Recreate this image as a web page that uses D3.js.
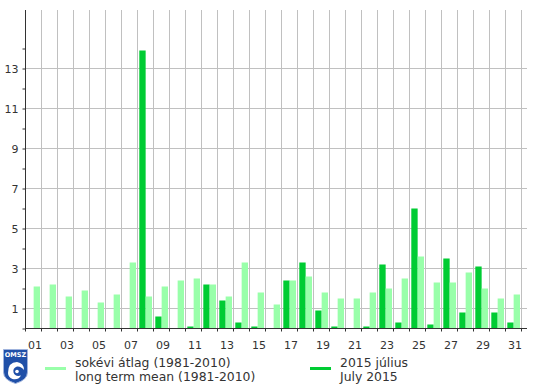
<!DOCTYPE html>
<html>
<head>
<meta charset="utf-8">
<script src="https://cdn.jsdelivr.net/npm/d3@7"></script>
<style>
  body { margin: 0; background: #fff; }
  text { font-family: 'DejaVu Sans', Verdana, sans-serif; fill: #333; }
</style>
</head>
<body>
<svg id="chart" width="536" height="388"></svg>
<script>
// daily precipitation, July 2015 vs long term mean (mm)
const days = d3.range(1, 32);
const july2015 = [0, 0, 0, 0, 0, 0, 0, 13.9, 0.6, 0, 0.1, 2.2, 1.4, 0.3, 0.1, 0,
  2.4, 3.3, 0.9, 0.1, 0, 0.1, 3.2, 0.3, 6.0, 0.2, 3.5, 0.8, 3.1, 0.8, 0.3];
const longTermMean = [2.1, 2.2, 1.6, 1.9, 1.3, 1.7, 3.3, 1.6, 2.1, 2.4, 2.5, 2.2, 1.6, 3.3, 1.8, 1.2,
  2.4, 2.6, 1.8, 1.5, 1.5, 1.8, 2.0, 2.5, 3.6, 2.3, 2.3, 2.8, 2.0, 1.5, 1.7];
const yTickLabels = [1, 3, 5, 7, 9, 11, 13];
const xTickLabels = days.filter(d => d % 2 === 1);

const colorJuly = '#00cc33';
const colorMean = '#99ffaa';
const gridColor = '#c0c0c0';
const axisColor = '#333';

const svg = d3.select('#chart');

const plotLeft = 25, plotRight = 521, axisEnd = 527;
const plotTop = 10.5, plotBottom = 328.5;

const x = d3.scaleBand()
  .domain(days)
  .range([plotLeft, plotRight]);

const xInner = d3.scaleBand()
  .domain(['july', 'mean'])
  .range([2.3, 15]);

const y = d3.scaleLinear()
  .domain([0, 15.9])
  .range([plotBottom, plotTop]);

// grid
svg.append('g')
  .selectAll('line')
  .data(yTickLabels)
  .enter()
  .append('line')
  .attr('x1', plotLeft)
  .attr('x2', axisEnd)
  .attr('y1', d => y(d))
  .attr('y2', d => y(d))
  .attr('stroke', gridColor);

svg.append('g')
  .selectAll('line')
  .data(days)
  .enter()
  .append('line')
  .attr('x1', d => x(d) + x.bandwidth() + 0.5)
  .attr('x2', d => x(d) + x.bandwidth() + 0.5)
  .attr('y1', plotTop - 0.5)
  .attr('y2', plotBottom)
  .attr('stroke', gridColor);

// bars
const bars = svg.append('g');

bars.selectAll('.july')
  .data(days)
  .enter()
  .append('rect')
  .classed('july', true)
  .attr('x', d => x(d) + xInner('july'))
  .attr('width', xInner.bandwidth())
  .attr('y', (d, i) => y(july2015[i]))
  .attr('height', (d, i) => y(0) - y(july2015[i]))
  .attr('fill', colorJuly);

bars.selectAll('.mean')
  .data(days)
  .enter()
  .append('rect')
  .classed('mean', true)
  .attr('x', d => x(d) + xInner('mean'))
  .attr('width', xInner.bandwidth())
  .attr('y', (d, i) => y(longTermMean[i]))
  .attr('height', (d, i) => y(0) - y(longTermMean[i]))
  .attr('fill', colorMean);

// y axis
const yAxis = d3.axisLeft(y)
  .tickValues(d3.range(0, 15))
  .tickSize(3)
  .tickPadding(4)
  .tickFormat(d => yTickLabels.includes(d) ? d : '');

const gY = svg.append('g')
  .attr('transform', 'translate(' + (plotLeft + 0.5) + ',0)')
  .call(yAxis);

gY.select('.domain').remove();
gY.append('line')
  .attr('x1', 0).attr('x2', 0)
  .attr('y1', plotTop - 0.5).attr('y2', plotBottom + 3)
  .attr('stroke', axisColor);
gY.selectAll('.tick line').attr('stroke', axisColor);
gY.selectAll('.tick text')
  .style('font-size', '11px')
  .style('font-family', "'DejaVu Sans', Verdana, sans-serif")
  .attr('fill', axisColor);

// x axis
const gX = svg.append('g');

gX.append('line')
  .attr('x1', plotLeft)
  .attr('x2', axisEnd)
  .attr('y1', plotBottom)
  .attr('y2', plotBottom)
  .attr('stroke', axisColor);

gX.selectAll('.xtick')
  .data(days)
  .enter()
  .append('line')
  .classed('xtick', true)
  .attr('x1', d => x(d) + x.bandwidth() + 0.5)
  .attr('x2', d => x(d) + x.bandwidth() + 0.5)
  .attr('y1', plotBottom)
  .attr('y2', plotBottom + 3)
  .attr('stroke', axisColor);

gX.selectAll('.xlabel')
  .data(xTickLabels)
  .enter()
  .append('text')
  .classed('xlabel', true)
  .attr('x', d => x(d) + x.bandwidth() / 2 + 2)
  .attr('y', plotBottom + 20)
  .attr('text-anchor', 'middle')
  .style('font-size', '11px')
  .text(d => d3.format('02d')(d));

// logo
const logo = svg.append('g');
logo.append('path')
  .attr('d', 'M3.5,349.5 H27.5 V372 Q27.5,380 15.5,383.5 Q3.5,380 3.5,372 Z')
  .attr('fill', '#2050a8')
  .attr('stroke', '#9fb3dd');
logo.append('text')
  .attr('x', 15.5)
  .attr('y', 357)
  .attr('text-anchor', 'middle')
  .style('font-size', '6.5px')
  .style('font-weight', 'bold')
  .style('fill', '#fff')
  .text('OMSZ');
logo.append('path')
  .attr('d', 'M8,373 Q8,362 17,362 Q24,363 24,370 Q21,366 17,366.5 Q12.5,368 13.5,372.5 Q15,377 21,375.5 Q18,380.5 12.5,379 Q8,377 8,373 Z')
  .attr('fill', '#fff');
logo.append('circle')
  .attr('cx', 17).attr('cy', 371.5).attr('r', 1.8)
  .attr('fill', '#fff');

// legend
const legend = [
  { lines: ['sokévi átlag (1981-2010)', 'long term mean (1981-2010)'], color: colorMean, x: 45 },
  { lines: ['2015 július', 'July 2015'], color: colorJuly, x: 310 }
];

const lg = svg.selectAll('.legend')
  .data(legend)
  .enter()
  .append('g')
  .classed('legend', true);

lg.append('line')
  .attr('x1', d => d.x)
  .attr('x2', d => d.x + 21)
  .attr('y1', 368.5)
  .attr('y2', 368.5)
  .attr('stroke', d => d.color)
  .attr('stroke-width', 3);

lg.each(function (d) {
  d3.select(this).selectAll('text')
    .data(d.lines)
    .enter()
    .append('text')
    .attr('x', d.x + 30)
    .attr('y', (t, i) => 366.5 + i * 14)
    .style('font-size', '12.4px')
    .text(t => t);
});
</script>
</body>
</html>
